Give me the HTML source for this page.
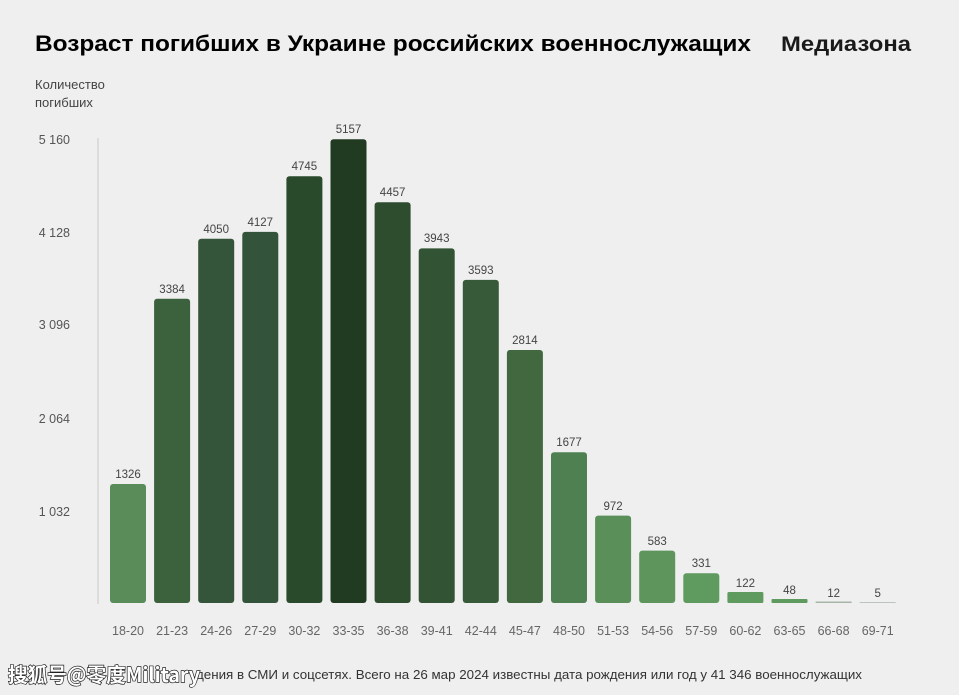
<!DOCTYPE html>
<html><head><meta charset="utf-8"><style>
html,body{margin:0;padding:0;background:#efefef;}
body{width:959px;height:695px;overflow:hidden;position:relative;font-family:"Liberation Sans","Noto Sans CJK SC",sans-serif;}
</style></head><body>
<svg width="959" height="695" xmlns="http://www.w3.org/2000/svg" style="position:absolute;left:0;top:0">
<rect width="959" height="695" fill="#efefef"/>
<text x="35" y="51" font-size="22.5" font-weight="bold" fill="#000" font-family="Liberation Sans, sans-serif" textLength="716" lengthAdjust="spacingAndGlyphs">Возраст погибших в Украине российских военнослужащих</text>
<text x="781" y="51" font-size="21" font-weight="bold" fill="#1a1a1a" font-family="Liberation Sans, sans-serif" textLength="130" lengthAdjust="spacingAndGlyphs">Медиазона</text>
<text x="35" y="89" font-size="13" fill="#444">Количество</text>
<text x="35" y="107" font-size="13" fill="#444">погибших</text>
<g font-size="12.5" fill="#555" text-anchor="end">
<text x="70" y="144">5 160</text>
<text x="70" y="237">4 128</text>
<text x="70" y="329">3 096</text>
<text x="70" y="423">2 064</text>
<text x="70" y="516">1 032</text>
</g>
<line x1="98" y1="138" x2="98" y2="604" stroke="#d6d6d6" stroke-width="1.5"/>
<g>
<rect x="110" y="484" width="36" height="119" rx="3" fill="#5a8c5a"/>
<rect x="154.1" y="298.7" width="36" height="304.3" rx="3" fill="#3b623c"/>
<rect x="198.2" y="238.8" width="36" height="364.2" rx="3" fill="#34553a"/>
<rect x="242.3" y="231.9" width="36" height="371.1" rx="3" fill="#33533a"/>
<rect x="286.4" y="176.3" width="36" height="426.7" rx="3" fill="#2a4a2c"/>
<rect x="330.5" y="139.3" width="36" height="463.7" rx="3" fill="#213a22"/>
<rect x="374.6" y="202.2" width="36" height="400.8" rx="3" fill="#2d4d2e"/>
<rect x="418.7" y="248.4" width="36" height="354.6" rx="3" fill="#335434"/>
<rect x="462.8" y="279.9" width="36" height="323.1" rx="3" fill="#375a38"/>
<rect x="506.9" y="350" width="36" height="253" rx="3" fill="#42683f"/>
<rect x="551" y="452.2" width="36" height="150.8" rx="3" fill="#4e8052"/>
<rect x="595.1" y="515.6" width="36" height="87.4" rx="3" fill="#5a8f5a"/>
<rect x="639.2" y="550.6" width="36" height="52.4" rx="3" fill="#5d955d"/>
<rect x="683.3" y="573.2" width="36" height="29.8" rx="3" fill="#5f9a5f"/>
<rect x="727.4" y="592" width="36" height="11" rx="1.5" fill="#5f9a5f"/>
<rect x="771.5" y="599" width="36" height="4" rx="1" fill="#5f9a5f"/>
<rect x="815.6" y="601.5" width="36" height="1.5" fill="#a9b4a9"/>
<rect x="859.7" y="602" width="36" height="1" fill="#bcc2bc"/>
</g>
<g font-size="11.5" fill="#444" text-anchor="middle">
<text x="128" y="478">1326</text>
<text x="172.1" y="293">3384</text>
<text x="216.2" y="233">4050</text>
<text x="260.3" y="226">4127</text>
<text x="304.4" y="170">4745</text>
<text x="348.5" y="133">5157</text>
<text x="392.6" y="196">4457</text>
<text x="436.7" y="242">3943</text>
<text x="480.8" y="274">3593</text>
<text x="524.9" y="344">2814</text>
<text x="569" y="446">1677</text>
<text x="613.1" y="510">972</text>
<text x="657.2" y="545">583</text>
<text x="701.3" y="567">331</text>
<text x="745.4" y="587">122</text>
<text x="789.5" y="594">48</text>
<text x="833.6" y="597">12</text>
<text x="877.7" y="597">5</text>
</g>
<g font-size="12.5" fill="#666" text-anchor="middle">
<text x="128" y="635">18-20</text>
<text x="172.1" y="635">21-23</text>
<text x="216.2" y="635">24-26</text>
<text x="260.3" y="635">27-29</text>
<text x="304.4" y="635">30-32</text>
<text x="348.5" y="635">33-35</text>
<text x="392.6" y="635">36-38</text>
<text x="436.7" y="635">39-41</text>
<text x="480.8" y="635">42-44</text>
<text x="524.9" y="635">45-47</text>
<text x="569" y="635">48-50</text>
<text x="613.1" y="635">51-53</text>
<text x="657.2" y="635">54-56</text>
<text x="701.3" y="635">57-59</text>
<text x="745.4" y="635">60-62</text>
<text x="789.5" y="635">63-65</text>
<text x="833.6" y="635">66-68</text>
<text x="877.7" y="635">69-71</text>
</g>
<text x="196" y="679" font-size="12.5" fill="#333" textLength="666" lengthAdjust="spacingAndGlyphs">дения в СМИ и соцсетях. Всего на 26 мар 2024 известны дата рождения или год у 41 346 военнослужащих</text>
<text x="8" y="682" font-size="20" font-weight="bold" fill="#fff" stroke="#222" stroke-width="1.4" paint-order="stroke" font-family="Noto Sans CJK SC, Liberation Sans, sans-serif" textLength="192" lengthAdjust="spacingAndGlyphs">搜狐号@零度Military</text>
</svg>
</body></html>
